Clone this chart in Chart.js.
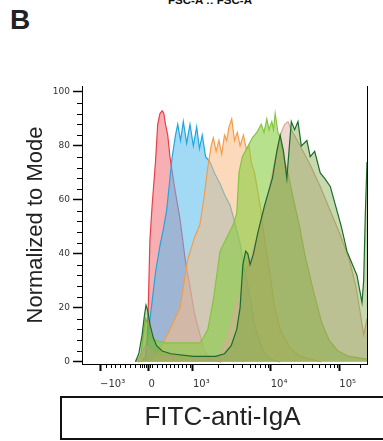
<!DOCTYPE html>
<html>
<head>
  <title>FITC-anti-IgA histogram overlay</title>
  <script src="https://cdn.jsdelivr.net/npm/chart.js"></script>
  <style>
    body { margin: 0; width: 383px; height: 441px; overflow: hidden; background: #fff; position: relative; }
    #panel { position: absolute; left: 10px; top: 6px; font: bold 28px "Liberation Sans", Arial, sans-serif; line-height: 28px; color: #222; }
    #topTitle { position: absolute; left: 110px; width: 200px; top: -5px; text-align: center; font: bold 11.5px "Liberation Sans", Arial, sans-serif; line-height: 10px; color: #111; }
    #xTitle { position: absolute; left: 60px; top: 396px; width: 323px; height: 44px; box-sizing: border-box;
              border-top: 2px solid #111; border-bottom: 2px solid #111; border-left: 2px solid #111;
              text-align: center; font: 26px "Liberation Sans", Arial, sans-serif; line-height: 36px; color: #222; }
    canvas { position: absolute; left: 0; top: 0; }
  </style>
</head>
<body>
  <div id="panel">B</div>
  <div id="topTitle">FSC-A :: FSC-A</div>
  <canvas id="histChart" width="383" height="441"></canvas>
  <div id="xTitle">FITC-anti-IgA</div>

  <script>
    // x axis is in display channels (0-256, biexponential display)
    const xMajor = [16.2, 59.7, 99.7, 169.5, 231.1];
    const xLabels = ['\u221210\u00b3', '0', '10\u00b3', '10\u2074', '10\u2075'];
    const xMinor = [21.6, 26, 29.6, 34.1, 38.6, 43.1, 47.6, 52.1, 53.9, 55.7, 57.5, 61.5, 63.3,
                    67.4, 71.9, 75.4, 79, 82.6, 86.2, 89.8, 93.4, 97,
                    122.2, 135.6, 143.7, 150.9, 155.4, 159.9, 164.4, 167.1,
                    188, 198.8, 206.9, 213.2, 218.3, 222.8, 226.4, 229.1, 249.7];
    const yMajor = [0, 20, 40, 60, 80, 100];
    const yMinor = [4, 8, 12, 16, 24, 28, 32, 36, 44, 48, 52, 56, 64, 68, 72, 76, 84, 88, 92, 96];

    // [channel, % of mode]
    const red = [[54,0],[57,1],[58.5,8],[59.5,20],[61,45],[63,58],[66,74],[68,88],[70,92],[72,93],[73.5,92],
      [75,88],[77,84],[79,76],[83,65],[88,53],[93,37],[97,28],[101,18],[106,10],[110,4],[115,1],[125,0]];
    const blue = [[53,0],[57,2],[60,12],[62,19],[66,33],[70,43],[73,49],[76,56],[79,68],[81,76],[84,84],[86,88],
      [88.5,82],[91,89],[94,81],[97,88],[100,80],[103,87],[105.5,79],[108,84],[111,76],[115,74],[119,70],
      [124,66],[128,62],[133,58],[137,52],[142,44],[146,34],[151,24],[155,14],[160,7],[164,3],[169,1],[178,0]];
    const orange = [[50,0],[62,1],[67,3],[70,5],[73,7],[79,12],[88,20],[92,30],[95,38],[101,46],[106,51],[110,62],
      [113,72],[116,80],[118,83],[120.5,78],[123,82],[125.5,77],[128,84],[130,82],[132,87],[134.5,90],[137,82],
      [139.5,85],[142,80],[145,84],[147.5,79],[150,80],[152,74],[155,70],[160,58],[164,45],[169,32],[173,20],
      [178,12],[187,5],[196,2],[205,1],[215,0]];
    const lime = [[50,0],[53,3],[55,10],[57,16],[59,14],[62,9],[66,8],[75,7],[90,7],[100,7],[106,7],[109,9],
      [113,12],[118,23],[124,41],[130,46],[136,51],[139,55],[141,70],[144,76],[148,79],[153,83],[157,85],
      [161,88],[163.5,85],[166,90],[168,86],[170.5,89],[172,86],[173.5,92],[176,85],[178,83],[181,76],[185,70],
      [190,60],[195,51],[200,40],[208,26],[215,15],[222,8],[230,4],[240,2],[256,1]];
    const tan = [[48,0],[53,2],[57,6],[60,5],[64,3],[70,2],[100,1.5],[118,1.5],[124,2],[130,8],[136,17],[142,25],
      [148,34],[154,42],[160,50],[166,60],[172,72],[176,80],[179,85],[182,88],[185,89],[188,86],[192,83],
      [196,80],[205,73],[214,65],[222,57],[232,47],[240,38],[246,28],[250,18],[253,10],[256,16]];
    const darkGreen = [[48,0],[51,3],[54,10],[56,17],[57.5,21],[59,19],[61,14],[64,9],[67,6],[72,4],[80,3],
      [100,2],[120,2],[128,3],[134,6],[139,12],[142,20],[144.5,36],[147,41],[149,40],[151,36],[154,40],
      [158,48],[164,58],[171,68],[175,78],[178,84],[181,78],[184,68],[188,89],[191,86],[194,89],[197,80],
      [202,82],[205,76],[209,78],[214,70],[218,68],[223,65],[229,56],[233,50],[238,41],[243,36],[247,32],
      [251.5,22],[253,30],[254.5,55],[256,74]];

    const toPts = arr => arr.map(p => ({x: p[0], y: p[1]}));

    function hist(data, line, fill, order) {
      return { data: toPts(data), borderColor: line, backgroundColor: fill, borderWidth: 1.2,
               fill: 'origin', pointRadius: 0, tension: 0, order: order };
    }

    const minorTicks = {
      id: 'minorTicks',
      afterDraw(chart) {
        const {ctx, chartArea, scales: {x, y}} = chart;
        ctx.save();
        ctx.strokeStyle = '#000';
        ctx.lineWidth = 1;
        ctx.beginPath();
        yMinor.forEach(v => {
          const py = Math.round(y.getPixelForValue(v)) + 0.5;
          ctx.moveTo(chartArea.left - 5, py);
          ctx.lineTo(chartArea.left, py);
        });
        xMinor.forEach(v => {
          const px = Math.round(x.getPixelForValue(v)) + 0.5;
          ctx.moveTo(px, chartArea.bottom);
          ctx.lineTo(px, chartArea.bottom + 4);
        });
        // right frame line
        ctx.moveTo(chartArea.right + 0.5, chartArea.top);
        ctx.lineTo(chartArea.right + 0.5, chartArea.bottom);
        ctx.stroke();
        ctx.restore();
      }
    };

    new Chart(document.getElementById('histChart'), {
      type: 'line',
      data: {
        datasets: [
          hist(red, '#e8404a', 'rgba(240,110,118,0.55)', 6),
          hist(blue, '#22a6df', 'rgba(85,188,238,0.55)', 5),
          hist(orange, '#f59c48', 'rgba(250,185,130,0.55)', 4),
          hist(lime, '#86c440', 'rgba(135,205,65,0.6)', 3),
          hist(tan, '#d9a898', 'rgba(215,170,150,0.45)', 2),
          hist(darkGreen, '#1d6b2c', 'rgba(105,155,45,0.38)', 1)
        ]
      },
      options: {
        responsive: false,
        animation: false,
        devicePixelRatio: 1,
        layout: { padding: { top: 86, right: 16, left: 0, bottom: 0 } },
        plugins: { legend: { display: false }, tooltip: { enabled: false } },
        scales: {
          x: {
            type: 'linear', min: 0, max: 256,
            afterFit: s => { s.height = 77; },
            afterBuildTicks: s => { s.ticks = xMajor.map(v => ({value: v})); },
            grid: { drawOnChartArea: false, tickLength: 7, tickWidth: 2, tickColor: '#000' },
            border: { color: '#000', width: 1 },
            ticks: {
              autoSkip: false, maxRotation: 0, align: 'start', padding: 7, color: '#333',
              font: { family: 'DejaVu Sans', size: 10 },
              callback: (v, i) => xLabels[i]
            }
          },
          y: {
            min: -0.8, max: 102.2,
            afterFit: s => { s.width = 82; },
            afterBuildTicks: s => { s.ticks = yMajor.map(v => ({value: v})); },
            grid: { drawOnChartArea: false, tickLength: 9, tickWidth: 1.5, tickColor: '#000' },
            border: { color: '#000', width: 1 },
            ticks: { padding: 3, color: '#333', font: { family: 'DejaVu Sans', size: 9 } },
            title: {
              display: true, text: 'Normalized to Mode', color: '#222',
              font: { family: 'Liberation Sans', size: 22 },
              padding: { top: 23, bottom: 0 }
            }
          }
        }
      },
      plugins: [minorTicks]
    });
  </script>
</body>
</html>
